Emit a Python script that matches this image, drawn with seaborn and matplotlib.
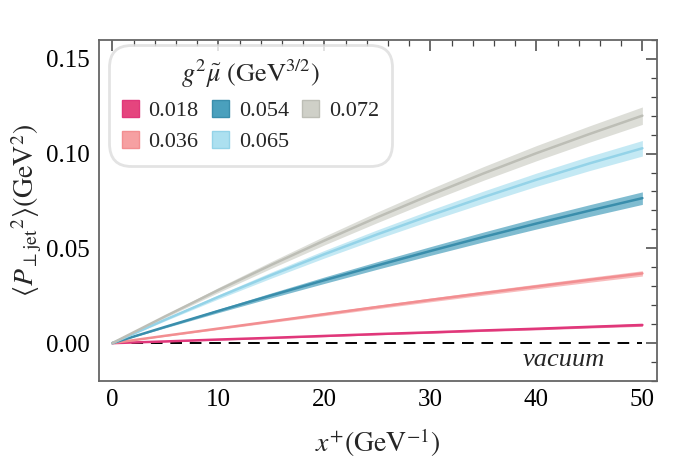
import numpy as np
import pandas as pd
import seaborn as sns
import matplotlib.pyplot as plt
from matplotlib.ticker import MultipleLocator

#------------- data
x_vals = [0, 5, 10, 15, 20, 25, 30, 35, 40, 45, 50]
labels = ['0.018', '0.036', '0.054', '0.065', '0.072']

y_018 = [0, 0.0009, 0.0019, 0.0028, 0.0038, 0.0048, 0.0057, 0.0067, 0.0076, 0.0086, 0.0096]
y_036 = [0, 0.0039, 0.0077, 0.0115, 0.0153, 0.0191, 0.0228, 0.0264, 0.0299, 0.0334, 0.0368]
y_054 = [0, 0.0086, 0.0170, 0.0252, 0.0332, 0.0410, 0.0486, 0.0560, 0.0631, 0.0699, 0.0765]
y_065 = [0, 0.0124, 0.0244, 0.0359, 0.0469, 0.0574, 0.0674, 0.0770, 0.0862, 0.0948, 0.1028]
y_072 = [0, 0.0142, 0.0280, 0.0413, 0.0541, 0.0664, 0.0782, 0.0895, 0.1002, 0.1103, 0.1200]

# half-width of the shaded uncertainty band
e_018 = [0, 0.0002, 0.0003, 0.0003, 0.0004, 0.0004, 0.0005, 0.0005, 0.0006, 0.0006, 0.0007]
e_036 = [0, 0.0003, 0.0005, 0.0006, 0.0008, 0.0009, 0.0010, 0.0011, 0.0012, 0.0013, 0.0014]
e_054 = [0, 0.0005, 0.0009, 0.0013, 0.0017, 0.0020, 0.0023, 0.0026, 0.0029, 0.0031, 0.0033]
e_065 = [0, 0.0006, 0.0011, 0.0016, 0.0020, 0.0024, 0.0028, 0.0032, 0.0035, 0.0038, 0.0041]
e_072 = [0, 0.0007, 0.0013, 0.0018, 0.0023, 0.0028, 0.0032, 0.0036, 0.0040, 0.0043, 0.0046]

colors = ['#e5457e', '#f6a0a2', '#4aa0bd', '#ace0f0', '#cfd0c8']
line_colors = ['#e0377a', '#f28e91', '#3a8eac', '#94d3e8', '#bdbeb6']

#------------- style
sns.set_theme(style='white')
plt.rcParams['font.family'] = ['Liberation Serif', 'DejaVu Serif']
plt.rcParams['mathtext.fontset'] = 'stix'

df = pd.DataFrame({'x': x_vals * 5,
                   'y': y_018 + y_036 + y_054 + y_065 + y_072,
                   'g': np.repeat(labels, len(x_vals))})
errs = [e_018, e_036, e_054, e_065, e_072]
ys = [y_018, y_036, y_054, y_065, y_072]

fig = plt.figure(figsize=(6.94, 4.58), dpi=100)
ax = fig.add_axes([0.142, 0.168, 0.805, 0.745])

ax.plot([0, 50], [0, 0], ls=(0, (6, 4)), color='black', lw=1.4, zorder=1)

for yy, ee, c in zip(ys, errs, colors):
    lo = np.array(yy) - np.array(ee)
    hi = np.array(yy) + np.array(ee)
    ax.fill_between(x_vals, lo, hi, color=c, alpha=0.7, lw=0, zorder=2)

sns.lineplot(data=df, x='x', y='y', hue='g', palette=line_colors, lw=1.8,
             legend=False, ax=ax, zorder=3)

# legend with square patches
handles = [plt.Rectangle((0, 0), 1, 1, facecolor=c, edgecolor=lc, lw=1)
           for c, lc in zip(colors, line_colors)]
leg = ax.legend(handles, labels, ncol=3, loc='upper left',
                title=r'$g^2\tilde{\mu}\ (\mathrm{GeV}^{3/2})$', title_fontsize=19,
                fontsize=16, frameon=True, fancybox=True, borderpad=0.6,
                handlelength=0.75, handleheight=0.75, handletextpad=0.45,
                columnspacing=0.6, labelspacing=0.45, borderaxespad=0,
                bbox_to_anchor=(0.018, 0.985))
leg.get_frame().set_edgecolor('#dcdcdc')
leg.get_frame().set_linewidth(2.0)
leg.get_frame().set_boxstyle('round,pad=0,rounding_size=1.0')

ax.text(46.5, -0.0121, 'vacuum', style='italic', fontsize=19, ha='right', va='baseline')

ax.set_xlim(-1.3, 51.4)
ax.set_ylim(-0.02, 0.16)
ax.xaxis.set_major_locator(MultipleLocator(10))
ax.xaxis.set_minor_locator(MultipleLocator(2))
ax.yaxis.set_major_locator(MultipleLocator(0.05))
ax.yaxis.set_minor_locator(MultipleLocator(0.01))
ax.yaxis.set_major_formatter(plt.FormatStrFormatter('%.2f'))
ax.tick_params(which='both', direction='in', top=True, right=True, color='#444444',
               labelsize=18, labelcolor='black')
ax.tick_params(which='major', length=8, width=1.1, pad=6)
ax.tick_params(which='minor', length=4, width=0.9)
for s in ax.spines.values():
    s.set_color('#666666')
    s.set_linewidth(1.3)

ax.set_xlabel(r'$x^{+}(\mathrm{GeV}^{-1})$', fontsize=20, labelpad=11)
ax.set_ylabel(r'$\langle P_{\perp\mathrm{jet}}{}^{2}\rangle(\mathrm{GeV}^{2})$', fontsize=20, labelpad=2)

plt.savefig('out.png', dpi=100)
